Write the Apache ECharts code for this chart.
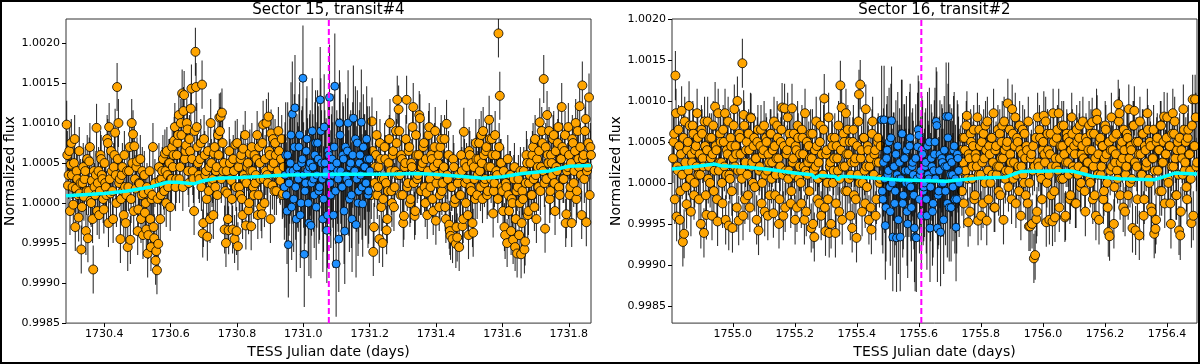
<!DOCTYPE html>
<html>
<head>
<meta charset="utf-8">
<script src="https://cdn.jsdelivr.net/npm/echarts@6/dist/echarts.min.js"></script>
<style>
html,body{margin:0;padding:0;background:#fff;}
#wrap{position:relative;width:1200px;height:364px;}
#chart{width:1200px;height:364px;}
#frame{position:absolute;left:0;top:0;width:1200px;height:364px;box-sizing:border-box;border:2px solid #000;pointer-events:none;}
</style>
</head>
<body>
<div id="wrap"><div id="chart"></div><div id="frame"></div></div>
<script>
// flux values are stored as (flux - 1) in units of 1e-5
// each run of values is spread evenly over its [start, end] time span
var fluxTicks = [0.9985, 0.9990, 0.9995, 1.0000, 1.0005, 1.0010, 1.0015, 1.0020];

// ---- Sector 15, transit#4 ----
var s15Ticks = [1730.4, 1730.6, 1730.8, 1731.0, 1731.2, 1731.4, 1731.6, 1731.8];
var s15PreA = [1730.287, 1730.939];
var s15PreDevA = [
  98, 22, 65, 48, 35, -2, 80, 18, 30, -18, 12, -58, 25, 8, 40, 15, -44, 52, 3, 28,
  -83, 20, 35, -10, 40, 15, 55, 30, -8, 25, 10, 75, 95, 12, 40, -20, 60, 35, 145, 100,
  30, 5, 45, -15, 20, 10, -55, 40, -46, 100, 86, 71, 18, 52, -8, 24, -20, 40, 12, -12,
  -33, -63, 15, -20, 5, 70, -44, -72, -84, -51, 28, 10, 40, 22, 62, 0, 35, 50, -5, 30,
  45, 78, 20, 60, 85, 30, 100, 137, 115, 55, 72, 92, 25, 65, 143, 40, -10, 189, 95, 50,
  30, 75, 148, -25, 60, 40, -42, 15, -20, 50, 30, 62, 20, 45, 85, 107, 108, 113, 40, -33,
  -50, 12, -34, 50, 28, -33, 40, 73, -35, -54, 20, 55, 5, 68, 30, -28, 45, -9, 62, -29,
  40, 10, 25, 55, -15, 70, 30, -14, 98, 0, 40, 35, 108, 60, 87, 22, 50, 75, 15, 40,
  65, 28, 80, 12
];
var s15PreB = [1730.289, 1730.941];
var s15PreDevB = [
  60, 35, -10, 75, 20, 50, -30, 40, 10, 65, 25, -5, 45, 30, -35, 55, 15, 70, 0, -20,
  40, 10, 94, 25, -15, 60, 35, 5, 50, 20, 80, -25, 30, 65, 15, 45, 88, 0, 55, 25,
  -45, 35, 15, 60, -25, 40, 20, 70, 5, 50, -10, 30, 45, -35, 25, 55, 10, -40, 35, 0,
  20, -40, 40, -55, 10, -30, 25, -60, 5, 45, -20, 30, 55, 15, 40, 65, 20, 50, 30, 70,
  60, 95, 30, 75, 110, 45, 85, 20, 135, 65, 100, 40, 80, 118, 55, 30, 90, 145, 70, 35,
  55, 20, -38, 80, 35, 5, 65, 45, 100, 25, -15, 70, 40, 10, 60, 90, 30, 75, 50, 15,
  40, -20, 65, 30, 5, 55, -45, 20, 75, 45, 10, 60, -15, 35, 85, 25, 50, 0, 40, 70,
  20, 60, 35, 85, 10, 50, -5, 75, 30, 55, 100, 25, 65, -20, 45, 80, 15, 60, 35, 90,
  30, 55, 10, 45
];
var s15InA = [1730.943, 1731.199];
var s15InDevA = [
  20, 60, -10, -52, 40, 85, 111, 5, 119, -20, 35, 70, -15, 50, 156, -64, 25, 80, 0, 45,
  -28, 90, 30, 60, -5, 75, 15, 129, 50, -20, 95, 35, -34, 65, 132, 10, 55, -15, 146, -76,
  40, -45, 85, 20, 60, -10, 70, 30, 100, 5, 50, -20, 106, 40, -27, 75, 15, 60, 101, -1,
  45, 25, 80, 10, 55
];
var s15InB = [1730.945, 1731.201];
var s15InDevB = [
  35, 10, 60, 25, 50, -5, 40, 70, 20, 45, 30, 85, 0, 55, 35, 15, 65, 40, -25, 50,
  25, 45, 10, 75, 35, 55, 20, 90, 30, 5, 50, 40, -15, 60, 25, 45, 35, 70, 15, 50,
  30, 100, 40, 20, 55, -35, 35, 65, 25, 45, 10, 60, 40, 80, 30, 0, 50, 35, 20, 70,
  45, 25, 55, 15, 40
];
var s15PostA = [1731.203, 1731.865];
var s15PostDevA = [
  40, 102, -61, 25, 60, 10, 45, 75, -5, -50, 30, 55, -34, 15, 80, 40, 0, 65, 20, 90,
  129, 117, 35, 60, 10, -16, 50, 129, 25, 70, 5, 45, 120, -16, 85, 30, 60, 106, 15, 50,
  75, 0, 13, 40, 95, 20, 55, -10, 70, -22, 35, 60, 10, 80, 25, 45, -5, 99, 30, -27,
  -41, 20, 55, 0, -51, -43, 35, 10, 60, -29, 89, 25, 45, -15, 65, 20, 50, -37, 30, 75,
  10, 55, 40, 85, 5, 60, 30, 70, 15, 104, 45, 80, -13, 25, 60, 35, 212, 134, 50, 15,
  40, -40, 20, 55, -10, 35, 5, -46, 45, -20, -63, 30, 0, -64, 15, 40, -48, 60, -15, 25,
  50, 10, 70, -5, 35, 55, 20, 101, 45, 75, 155, -32, 30, 60, 90, 15, 50, 80, 25, 65,
  40, 95, 10, 55, 70, 30, 85, -14, 45, 60, 20, -25, 75, 40, 100, 15, 55, 121, 35, 147,
  60, 90, -24, 45, 132, 70
];
var s15PostB = [1731.205, 1731.867];
var s15PostDevB = [
  10, 65, -30, 45, 85, 20, -45, 55, 30, 5, 70, 25, -20, 50, 100, 15, 60, -5, 40, 75,
  35, 90, 10, 55, -25, 45, 80, 20, 65, 0, 50, 95, 25, -10, 60, 35, 110, 15, 45, 70,
  20, 55, -15, 85, 30, 60, 5, 45, 90, 25, 50, -5, 70, 15, 40, 80, -20, 35, 60, -35,
  20, -45, 45, 5, -30, 25, -55, 10, 40, -20, 50, 0, 30, -40, 60, 15, -25, 45, 5, 55,
  35, 75, 20, 50, 90, 25, 65, 10, 45, 80, 30, 60, 15, 85, 40, 5, 70, 50, 20, -10,
  -30, 25, -50, 10, 35, -35, 0, 30, -55, 15, 20, -40, 40, -25, 5, -58, 25, 50, -10, 35,
  10, 60, 30, 80, -20, 45, 65, 15, 90, 40, 25, 70, 110, 50, 5, 60, 35, 85, -10, 45,
  75, 20, 55, 120, 30, 65, -25, 40, 95, 10, 50, 80, 25, 65, 5, 90, 45, 70, -15, 55,
  30, 105, 40, 75, 10, 60
];
var s15TrendTime = [1730.285, 1730.40, 1730.47, 1730.54, 1730.59, 1730.62, 1730.67, 1730.70, 1730.74, 1730.81,
  1730.95, 1731.10, 1731.25, 1731.34, 1731.39, 1731.49, 1731.54, 1731.60, 1731.66, 1731.74, 1731.80, 1731.867];
var s15TrendDev = [9, 12, 15, 20, 26, 26, 24, 28, 31, 32, 35, 36, 36, 37, 36, 33, 31, 33, 37, 40, 46, 47];
var s15Mid = 1731.077;

// ---- Sector 16, transit#2 ----
var s16Ticks = [1755.0, 1755.2, 1755.4, 1755.6, 1755.8, 1756.0, 1756.2, 1756.4];
var s16PreA = [1754.807, 1755.475];
var s16PreDevA = [
  30, 60, 131, -41, 15, 45, -10, 88, -72, -62, 25, -26, 50, 94, 5, 35, 70, -15, 40, 20,
  55, -20, 10, 65, 30, -61, 45, -39, 75, 20, 0, 55, 35, -10, 93, 40, -47, 15, 60, 25,
  -25, 50, 85, 10, 35, -52, 5, 45, -55, 70, 20, 35, 100, -46, 55, 15, 146, 83, -20, 40,
  10, 60, -30, 79, 25, 45, -5, 30, 50, -58, 20, 65, 0, 40, -35, 55, 15, 35, -15, 60,
  25, -37, 45, 10, 70, 30, -20, 50, 92, -40, 91, 15, 40, 5, 60, -25, 91, 30, 10, 45,
  -30, 55, 20, 0, 65, 35, -45, 15, 50, 25, -10, 60, 30, -50, -66, 20, 45, 5, -25, 70,
  35, 10, 103, -59, 40, -20, -61, 25, 55, 0, 30, -61, 45, 15, -35, 119, 92, 20, 50, -10,
  35, 65, 5, -40, 25, 50, -15, 30, -67, 10, 108, 120, 40, 0, 55, -25, 20, 45, -45, 30,
  -57, 75, 10, 40, -20, 50, 25, 5
];
var s16PreB = [1754.809, 1755.477];
var s16PreDevB = [
  50, -20, 85, 20, 65, -45, 35, 10, 55, 75, -5, 40, 15, 70, -35, 25, 60, 0, 45, 85,
  10, 35, -50, 60, 20, 75, -15, 40, 5, 55, 30, -40, 70, 15, 45, -20, 85, 25, 50, 0,
  65, 20, -45, 40, 75, 10, 55, -10, 30, 90, 45, -30, 15, 60, 35, 5, -40, 70, 25, 50,
  -15, 40, 80, 20, 0, 55, 30, -45, 65, 15, 45, -25, 35, 70, 10, 50, -40, 25, 60, 5,
  40, 75, -15, 30, 55, -50, 20, 65, 10, 45, -30, 35, 80, 15, 50, -10, 25, 60, -45, 40,
  70, 5, 35, -25, 55, 20, 85, -35, 10, 45, 30, -55, 60, 15, 40, 75, -20, 25, 50, -40,
  10, 65, -30, 35, 0, 80, 20, -50, 45, 15, 55, -25, 30, 70, 5, 40, -45, 60, 20, 85,
  -10, 35, 50, 10, -55, 65, 25, -20, 45, 75, 0, 30, -35, 55, 15, 90, -5, 40, 20, -30,
  60, 10, 35, -40, 25, 55, 0, 45
];
var s16InA = [1755.480, 1755.728];
var s16InDevA = [
  77, -20, 77, -52, 30, 10, 50, -35, 76, -66, 20, -10, -67, 45, 5, -66, 60, -25, 30, 15,
  40, -50, 0, 55, -30, 25, -15, -66, -67, 44, 58, 10, -40, 35, -5, 20, -20, 45, 5, -55,
  30, -35, 15, 50, 75, -55, -10, 35, 0, 25, -45, 20, 81, -25, 81, 30, -30, 10, 40, -20,
  -54, 35, 15
];
var s16InB = [1755.482, 1755.730];
var s16InDevB = [
  -10, 25, 5, -30, 40, 15, -5, 55, 0, 20, -25, 35, 10, -45, 25, 5, 60, -15, 30, 0,
  -35, 15, 45, -5, 20, 10, -55, 30, 5, 65, -20, 15, 40, -10, 0, 25, -40, 10, 50, -5,
  20, -25, 35, 5, 70, -15, 15, -60, 30, 0, 40, -10, 20, 55, -30, 10, 25, -5, 45, 5,
  -20, 30, 0
];
var s16PostA = [1755.735, 1756.495];
var s16PostDevA = [
  40, -10, 25, 55, 15, 82, -48, 30, 60, 5, 45, -20, 35, 20, -46, 65, 10, 50, -25, 30,
  70, -46, 15, 45, 0, 55, 25, -30, 40, 10, 65, 20, -15, 50, 30, 75, 5, 45, 97, 15,
  35, -20, 60, 25, 80, 10, 50, -10, 40, 20, 65, 0, 30, 45, -25, -53, -53, 35, 15, -92,
  -88, -44, 80, 20, 55, 5, 40, 82, 25, -48, 60, 10, 35, -15, -47, 50, -42, 20, 65, 85,
  30, 5, 45, 70, -42, 25, 55, 10, -20, 40, 60, 15, 35, -25, 50, 20, 70, 0, 45, 30,
  -10, 55, 25, 40, 5, 60, 74, 20, -15, -40, 77, 35, 50, 10, 45, -20, 30, 65, 0, -60,
  -65, 40, 20, 55, -5, 35, 15, 96, 85, 25, 50, -30, 40, 10, 60, -15, 30, 45, 5, 70,
  88, -58, 20, 50, -64, 35, 10, 60, -20, 40, 25, 65, 0, 45, -35, 30, -62, -56, 50, 15,
  40, 70, -10, 25, 81, 35, 55, 5, 45, -25, 20, 85, 60, 30, -15, 50, -58, -64, 40, 10,
  65, 25, -5, 55, 35, 15, -49, 102, 45, 102, 20
];
var s16PostB = [1755.737, 1756.497];
var s16PostDevB = [
  15, 55, -25, 40, 70, 5, 35, -35, 50, 20, 65, -15, 30, 80, 10, 45, -40, 25, 60, 0,
  40, 75, -20, 35, 55, 10, 85, -30, 45, 20, -10, 60, 30, 70, -45, 40, 15, 50, -5, 65,
  25, 90, 5, 45, -25, 55, 20, 70, -40, 35, 10, 60, -15, 40, 75, 0, 30, -50, 45, 20,
  55, -35, 25, 65, 10, -20, 50, 35, 75, 0, 40, -45, 60, 20, 85, -10, 30, 55, 15, -30,
  45, 70, 5, 35, -40, 60, 25, 50, -15, 80, 20, 45, -25, 65, 10, 55, -5, 35, 75, 15,
  -35, 50, 25, 70, 0, 40, -20, 60, 30, 85, 10, -45, 55, 20, 45, -10, 70, 35, -30, 50,
  15, 80, 40, -50, 25, 60, 5, 75, -15, 45, 30, 65, -35, 20, 55, 90, 0, 40, -55, 70,
  25, 50, -20, 35, 75, 10, 60, -40, 45, 20, 85, 5, 50, -30, 30, 65, 15, -45, 55, 40,
  -10, 70, 25, 50, -25, 35, 80, 0, 45, -50, 60, 20, 75, -15, 40, 10, 55, -35, 30, 90,
  15, 50, -20, 65, 35, 5, 70, -40, 45, 80, 25
];
var s16TrendTime = [1754.804, 1754.88, 1754.942, 1754.96, 1755.05, 1755.125, 1755.20, 1755.255, 1755.265, 1755.28,
  1755.33, 1755.34, 1755.35, 1755.367, 1755.45, 1755.528, 1755.689, 1755.797, 1755.88, 1755.915, 1755.931,
  1756.08, 1756.10, 1756.163, 1756.243, 1756.361, 1756.426, 1756.497];
var s16TrendDev = [17, 20, 23, 21, 19, 16, 12, 10, 6, 9, 8, 4, 8, 8, 6, 4, 2, 6, 7, 12, 14, 15, 14, 8, 5, 4, 12, 11];
var s16Mid = 1755.608;

var errOut = 30, errIn = 66;   // error bar half-length, 1e-5 units

var FONT = 'DejaVu Sans';

function toPoints(runs, err) {
  var out = [];
  runs.forEach(function (r) {
    var span = r[0], devs = r[1], n = devs.length, step = (span[1] - span[0]) / (n - 1);
    for (var i = 0; i < n; i++) out.push([span[0] + i * step, 1 + devs[i] * 1e-5, err * 1e-5]);
  });
  out.sort(function (a, b) { return a[0] - b[0]; });
  return out;
}

function errRender(params, api) {
  var x = api.value(0), y = api.value(1), e = api.value(2);
  var a = api.coord([x, y - e]), b = api.coord([x, y + e]);
  return {
    type: 'line',
    shape: {x1: a[0], y1: a[1], x2: b[0], y2: b[1]},
    style: {stroke: 'rgba(0,0,0,0.8)', lineWidth: 1.1}
  };
}

function panelSeries(g, pre, inn, post, trendT, trendD, mid, yMin, yMax) {
  var list = [];
  var groups = [[pre, errOut, '#FFA500', 1, 9], [post, errOut, '#FFA500', 1, 9], [inn, errIn, '#1E90FF', 3, 8]];
  groups.forEach(function (gr) {
    var pts = toPoints(gr[0], gr[1]);
    list.push({
      type: 'custom', xAxisIndex: g, yAxisIndex: g, renderItem: errRender, clip: true,
      data: pts, encode: {x: 0, y: 1}, z: gr[3], silent: true
    });
    list.push({
      type: 'scatter', xAxisIndex: g, yAxisIndex: g, symbolSize: gr[4], clip: true,
      data: pts.map(function (p) { return [p[0], p[1]]; }),
      itemStyle: {color: gr[2], borderColor: '#000', borderWidth: 0.8, opacity: 1},
      z: gr[3] + 1, silent: true
    });
  });
  list.push({
    type: 'line', xAxisIndex: g, yAxisIndex: g, symbol: 'none', z: 6,
    data: trendT.map(function (t, i) { return [t, 1 + trendD[i] * 1e-5]; }),
    lineStyle: {color: '#00FFFF', width: 3.5}
  });
  list.push({
    type: 'line', xAxisIndex: g, yAxisIndex: g, symbol: 'none', z: 7,
    data: [[mid, yMin], [mid, yMax]],
    lineStyle: {color: '#FF00FF', width: 2, type: [6, 3]}
  });
  return list;
}

function xAxisOf(g, ticks, min, max) {
  return {
    gridIndex: g, type: 'value', min: min, max: max,
    axisLine: {show: false}, splitLine: {show: false},
    axisTick: {show: true, customValues: ticks, length: 4, lineStyle: {color: '#000', width: 1}},
    axisLabel: {customValues: ticks, margin: 6, fontSize: 11, color: '#000', fontFamily: FONT,
      formatter: function (v) { return v.toFixed(1); }},
    name: 'TESS Julian date (days)', nameLocation: 'middle', nameGap: 20,
    nameTextStyle: {fontSize: 14, color: '#000', fontFamily: FONT}
  };
}

function yAxisOf(g, min, max) {
  return {
    gridIndex: g, type: 'value', min: min, max: max,
    axisLine: {show: false}, splitLine: {show: false},
    axisTick: {show: true, customValues: fluxTicks, length: 4, lineStyle: {color: '#000', width: 1}},
    axisLabel: {customValues: fluxTicks, margin: 6, fontSize: 11, color: '#000', fontFamily: FONT,
      formatter: function (v) { return v.toFixed(4); }},
    name: 'Normalized flux', nameLocation: 'middle', nameGap: 48, nameRotate: 90,
    nameTextStyle: {fontSize: 14, color: '#000', fontFamily: FONT}
  };
}

var y15 = [0.9985, 1.0023], y16 = [0.99829, 1.0020];

var chart = echarts.init(document.getElementById('chart'), null, {renderer: 'canvas'});
chart.setOption({
  animation: false,
  backgroundColor: '#fff',
  grid: [
    {left: 66, top: 19, width: 525, height: 307, show: true, borderColor: '#333', borderWidth: 1, backgroundColor: 'transparent'},
    {left: 672, top: 19, width: 525, height: 307, show: true, borderColor: '#333', borderWidth: 1, backgroundColor: 'transparent'}
  ],
  xAxis: [xAxisOf(0, s15Ticks, 1730.285, 1731.867), xAxisOf(1, s16Ticks, 1754.804, 1756.497)],
  yAxis: [yAxisOf(0, y15[0], y15[1]), yAxisOf(1, y16[0], y16[1])],
  graphic: [
    {type: 'text', x: 328.5, y: 10, style: {text: 'Sector 15, transit#4', font: '15px "DejaVu Sans"', fill: '#000', textAlign: 'center', textVerticalAlign: 'middle'}},
    {type: 'text', x: 934.5, y: 10, style: {text: 'Sector 16, transit#2', font: '15px "DejaVu Sans"', fill: '#000', textAlign: 'center', textVerticalAlign: 'middle'}}
  ],
  series: panelSeries(0, [[s15PreA, s15PreDevA], [s15PreB, s15PreDevB]],
      [[s15InA, s15InDevA], [s15InB, s15InDevB]],
      [[s15PostA, s15PostDevA], [s15PostB, s15PostDevB]],
      s15TrendTime, s15TrendDev, s15Mid, y15[0], y15[1])
    .concat(panelSeries(1, [[s16PreA, s16PreDevA], [s16PreB, s16PreDevB]],
      [[s16InA, s16InDevA], [s16InB, s16InDevB]],
      [[s16PostA, s16PostDevA], [s16PostB, s16PostDevB]],
      s16TrendTime, s16TrendDev, s16Mid, y16[0], y16[1]))
});
</script>
</body>
</html>
